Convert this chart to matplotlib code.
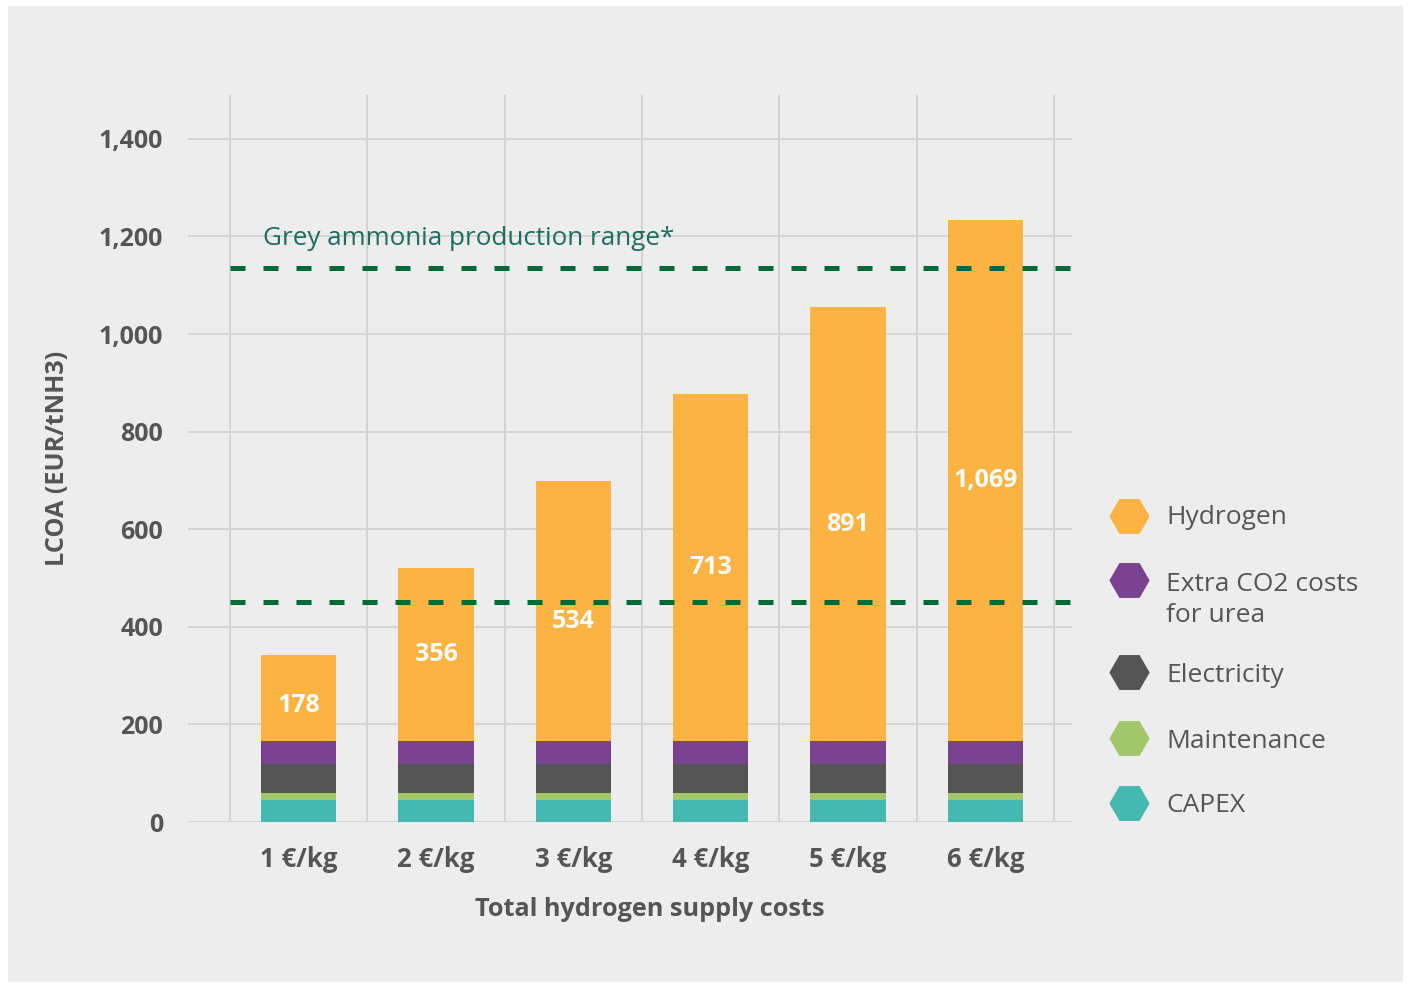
import matplotlib
matplotlib.use("Agg")
import matplotlib.pyplot as plt
from matplotlib.patches import Rectangle
from matplotlib.lines import Line2D
import numpy as np

categories = ["1 €/kg", "2 €/kg", "3 €/kg", "4 €/kg", "5 €/kg", "6 €/kg"]
capex = [45, 45, 45, 45, 45, 45]
maintenance = [14, 14, 14, 14, 14, 14]
electricity = [59, 59, 59, 59, 59, 59]
extra_co2 = [47, 47, 47, 47, 47, 47]
hydrogen = [178, 356, 534, 713, 891, 1069]
hydrogen_labels = ["178", "356", "534", "713", "891", "1,069"]
grey_range = [451, 1135]
yticks = [0, 200, 400, 600, 800, 1000, 1200, 1400]
ytick_labels = ["0", "200", "400", "600", "800", "1,000", "1,200", "1,400"]

series = [
    ("CAPEX", capex, "#45b8b0"),
    ("Maintenance", maintenance, "#a1c76a"),
    ("Electricity", electricity, "#545454"),
    ("Extra CO2 costs\nfor urea", extra_co2, "#7a4392"),
    ("Hydrogen", hydrogen, "#fbb344"),
]

plt.rcParams['font.family'] = ['Open Sans', 'DejaVu Sans']
TXT = "#555555"

fig = plt.figure(figsize=(14.08, 9.86), dpi=100, facecolor="white")
fig.patches.append(Rectangle((8/1408, 1-982/986), (1403-8)/1408, (982-6)/986,
                             transform=fig.transFigure, facecolor="#ededed",
                             edgecolor="none", zorder=-10))
ax = fig.add_axes([188/1408, 1-822/986, (1072-188)/1408, (822-95)/986])
ax.patch.set_alpha(0)

x = np.arange(len(categories))
bottom = np.zeros(len(categories))
for name, vals, col in series:
    ax.bar(x, vals, width=0.55, bottom=bottom, color=col, zorder=3)
    bottom += np.array(vals)

# hydrogen labels (centred in the segment, nudged where they would clash)
label_nudge = [-15, 0, -22, 0, 0, 0]
hbot = np.array(capex) + np.array(maintenance) + np.array(electricity) + np.array(extra_co2)
for i, (v, lab) in enumerate(zip(hydrogen, hydrogen_labels)):
    ax.text(x[i], hbot[i] + v / 2 + label_nudge[i], lab, ha="center", va="center",
            color="white", fontsize=18, fontweight="bold", zorder=5)

ax.set_xlim(-0.806, 5.631)
ax.set_ylim(0, 1490)

# grid
for yv in yticks:
    ax.axhline(yv, color="#d2d2d2", lw=1.3, zorder=1)
for xv in np.arange(-0.5, len(categories), 1.0):
    ax.axvline(xv, color="#d2d2d2", lw=1.3, zorder=1)

# grey ammonia range
for yv in grey_range:
    ax.hlines(yv, -0.5, 5.631, colors="#006a36", lw=3.6, linestyles=(0, (3, 3.6)), zorder=4)
ax.text(-0.26, 1195, "Grey ammonia production range*", color="#1b6e5c", fontsize=18.7,
        va="center", ha="left", zorder=5)

for s in ax.spines.values():
    s.set_visible(False)
ax.set_yticks(yticks)
ax.set_yticklabels(ytick_labels)
ax.set_xticks(x)
ax.set_xticklabels(categories)
ax.tick_params(axis="both", length=0, labelcolor=TXT)
ax.tick_params(axis="y", pad=18, labelsize=18)
ax.tick_params(axis="x", pad=17, labelsize=18.5)
for t in ax.get_xticklabels() + ax.get_yticklabels():
    t.set_fontweight("bold")

fig.text(650/1408, 1-910/986, "Total hydrogen supply costs", ha="center", va="center",
         fontsize=18.2, fontweight="bold", color=TXT)
fig.text(57/1408, 1-458/986, "LCOA (EUR/tNH3)", ha="center", va="center", rotation=90,
         fontsize=18.2, fontweight="bold", color=TXT)

# legend (manual)
leg_items = [
    ("Hydrogen", "#fbb344", 516, 517),
    ("Extra CO2 costs\nfor urea", "#7a4392", 580, 600),
    ("Electricity", "#545454", 672, 675),
    ("Maintenance", "#a1c76a", 738, 741),
    ("CAPEX", "#45b8b0", 803, 806),
]
for lab, col, my, ty in leg_items:
    fig.add_artist(Line2D([1129/1408], [1-my/986], marker="H", markersize=29,
                          color=col, markeredgewidth=0, linestyle="none",
                          transform=fig.transFigure))
    fig.text(1166/1408, 1-ty/986, lab, ha="left", va="center", fontsize=19,
             color=TXT, linespacing=1.35)

fig.savefig("out.png", dpi=100, facecolor="white")
